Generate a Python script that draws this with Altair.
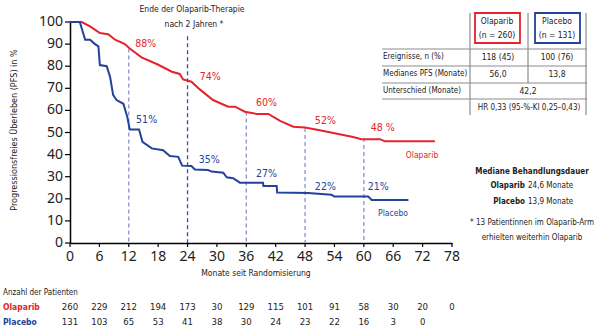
import altair as alt
import pandas as pd

# ---------------- data ----------------
ola_m = [0, 2.4, 4.1, 6.1, 7.8, 9.2, 11.2, 12.2, 14.6, 17.7, 20.8, 22.4, 23.1, 24.8, 26.5, 29.2,
         32.3, 33.7, 35.7, 38.1, 40.5, 42.9, 45.6, 48, 51, 57.8, 59.5, 63.3, 64.3, 74.5]
ola_v = [100, 100, 98, 95, 94.5, 92, 90, 88, 84, 81, 77.5, 76.5, 74, 73, 69.5, 64.7,
         61.7, 61.7, 59.4, 58.4, 58.4, 55.3, 52.6, 52.3, 51, 48, 47, 47, 46, 46]

pla_m = [0, 2.0, 3.1, 4.1, 5.1, 5.8, 6.1, 7.5, 8.2, 8.8, 9.5, 10.9, 11.7, 12.2, 14.1, 14.8,
         16.7, 19, 20.4, 22.1, 22.9, 24.8, 25.5, 28.2, 28.9, 31.3, 32, 33.3, 34.7, 39.4, 39.5,
         42.2, 42.3, 48.6, 53.4, 54, 60.9, 61.6, 69.1]
pla_v = [100, 100, 92, 92, 90, 89, 80.5, 80, 75, 67, 64.7, 63, 57, 51.4, 51.4, 45.8,
         42.8, 42, 39.4, 39, 35, 34.8, 33.3, 33, 32.3, 31.8, 29.7, 29.3, 27.3, 27.3, 25.8,
         25.8, 22.8, 22.6, 21.8, 21, 21, 19.5, 19.5]

x_ticks = list(range(0, 79, 6))
y_ticks = list(range(0, 101, 10))

rule_m = [12, 24, 36, 48, 60]
rule_top = [88, 93.5, 59.5, 52, 47.5]
rule_dark = [False, True, False, False, False]

pct_ola_text = ["88%", "74%", "60%", "52%", "48 %"]
pct_ola_m = [13.3, 26.5, 38, 50, 61.4]
pct_ola_v = [90, 75, 63.3, 55.2, 52]
pct_pla_text = ["51%", "35%", "27%", "22%", "21%"]
pct_pla_m = [13.5, 26.3, 38, 50, 60.8]
pct_pla_v = [55.7, 37.6, 31.2, 25.3, 25.3]

risk_ola = [260, 229, 212, 194, 173, 30, 129, 115, 101, 91, 58, 30, 20, 0]
risk_pla = [131, 103, 65, 53, 41, 38, 30, 24, 23, 22, 16, 3, 0]

RED = "#e4232b"
BLUE = "#23429b"
LIGHT = "#8a90d2"
DARK = "#3b4fa0"
GRAY = "#8c8c8c"
NARROW = "DejaVu Sans Condensed, Roboto, sans-serif"
TICKFONT = "Noto Sans, sans-serif"

W, H = 382, 221

xs = alt.Scale(domain=[0, 78], nice=False)
ys = alt.Scale(domain=[0, 100], nice=False)
one = pd.DataFrame({"a": [0]})

# ---------------- layers ----------------
curves = pd.DataFrame({
    "m": ola_m + pla_m,
    "v": ola_v + pla_v,
    "arm": ["Olaparib"] * len(ola_m) + ["Placebo"] * len(pla_m),
    "col": [RED] * len(ola_m) + [BLUE] * len(pla_m),
    "i": list(range(len(ola_m))) + list(range(len(pla_m))),
})

rules = pd.DataFrame({
    "m": rule_m, "v": rule_top, "v0": [0] * len(rule_m),
    "col": [DARK if d else LIGHT for d in rule_dark],
})

axis_common = dict(title=None, grid=False, labels=False, ticks=False,
                   domainColor="black", domainWidth=1.5)

rule_layer = alt.Chart(rules).mark_rule(strokeDash=[4, 3], strokeWidth=1.3).encode(
    x=alt.X("m:Q", scale=xs, axis=alt.Axis(**axis_common)),
    y=alt.Y("v:Q", scale=ys, axis=alt.Axis(**axis_common)),
    y2="v0:Q",
    color=alt.Color("col:N", scale=None),
)

line_layer = alt.Chart(curves).mark_line(strokeWidth=2).encode(
    x=alt.X("m:Q", scale=xs),
    y=alt.Y("v:Q", scale=ys),
    detail="arm:N",
    order="i:Q",
    color=alt.Color("col:N", scale=None),
)

# tick marks and tick labels drawn through the same scales
xt = pd.DataFrame({"m": x_ticks, "t": [str(v) for v in x_ticks]})
yt = pd.DataFrame({"v": y_ticks, "t": [str(v) for v in y_ticks]})
xtick_marks = alt.Chart(xt).mark_rule(color="black", strokeWidth=1.2).encode(
    x=alt.X("m:Q", scale=xs), y=alt.value(H), y2=alt.value(H + 4))
xtick_labels = alt.Chart(xt).mark_text(fontSize=14, font=TICKFONT, color="#222",
                                       baseline="middle").encode(
    x=alt.X("m:Q", scale=xs), y=alt.value(H + 14), text="t:N")
ytick_marks = alt.Chart(yt).mark_rule(color="black", strokeWidth=1.2).encode(
    y=alt.Y("v:Q", scale=ys), x=alt.value(-5), x2=alt.value(0))
ytick_labels = alt.Chart(yt).mark_text(fontSize=14, font=TICKFONT, color="#222",
                                       align="right", baseline="middle").encode(
    y=alt.Y("v:Q", scale=ys), x=alt.value(-7), text="t:N")

pcts = pd.DataFrame({
    "m": pct_ola_m + pct_pla_m,
    "v": pct_ola_v + pct_pla_v,
    "t": pct_ola_text + pct_pla_text,
    "col": [RED] * 5 + [BLUE] * 5,
})
pct_layer = alt.Chart(pcts).mark_text(align="left", baseline="middle", fontSize=10.5,
                                      font=NARROW).encode(
    x=alt.X("m:Q", scale=xs), y=alt.Y("v:Q", scale=ys),
    text="t:N", color=alt.Color("col:N", scale=None),
)

risk = pd.DataFrame({
    "m": x_ticks + x_ticks[:len(risk_pla)],
    "n": [str(v) for v in risk_ola] + [str(v) for v in risk_pla],
    "row": ["o"] * len(risk_ola) + ["p"] * len(risk_pla),
})
risk_o = alt.Chart(risk[risk.row == "o"]).mark_text(fontSize=9.5, font=NARROW, color="#222",
                                                     baseline="middle").encode(
    x=alt.X("m:Q", scale=xs), y=alt.value(285), text="n:N")
risk_p = alt.Chart(risk[risk.row == "p"]).mark_text(fontSize=9.5, font=NARROW, color="#222",
                                                     baseline="middle").encode(
    x=alt.X("m:Q", scale=xs), y=alt.value(300), text="n:N")


def txt(s, px, py, align="center", size=8.5, color="#222", weight="normal", angle=0, font=NARROW):
    kw = dict(text=s, align=align, baseline="middle", fontSize=size, color=color,
              fontWeight=weight, font=font)
    if angle:
        kw["angle"] = angle
    return alt.Chart(one).mark_text(**kw).encode(x=alt.value(px), y=alt.value(py))


def rule(x1, y1, x2, y2, color=GRAY, width=1.2):
    return alt.Chart(one).mark_rule(color=color, strokeWidth=width).encode(
        x=alt.value(x1), y=alt.value(y1), x2=alt.value(x2), y2=alt.value(y2))


def box(x1, y1, x2, y2, color):
    return alt.Chart(one).mark_rect(fill="white", fillOpacity=0, stroke=color,
                                    strokeWidth=1.8).encode(
        x=alt.value(x1), y=alt.value(y1), x2=alt.value(x2), y2=alt.value(y2))


statics = [
    txt("Progressionsfreies Überleben (PFS) in %", -56, 108, size=9, angle=270),
    txt("Monate seit Randomisierung", 186, 251, size=8.5),
    txt("Ende der Olaparib-Therapie", 122, -13, size=8.5),
    txt("nach 2 Jahren *", 124, 2, size=8.5),
    txt("Olaparib", 352, 133, size=8.5, color=RED),
    txt("Placebo", 323, 191, size=8.5, color=BLUE),
    txt("Anzahl der Patienten", -67, 271, align="left", size=8),
    txt("Olaparib", -67, 285, align="left", size=8.5, color=RED, weight="bold"),
    txt("Placebo", -67, 300, align="left", size=8.5, color=BLUE, weight="bold"),
    # table
    rule(312, 27, 517, 27), rule(312, 44, 517, 44), rule(312, 61, 517, 61), rule(312, 77, 517, 77),
    rule(400, -9, 400, 93), rule(458, -9, 458, 61), rule(516, -9, 516, 93),
    box(405, -9, 450, 21, RED), box(465, -9, 510, 21, BLUE),
    txt("Olaparib", 427, -1), txt("(n = 260)", 427, 13),
    txt("Placebo", 487, -1), txt("(n = 131)", 487, 13),
    txt("Ereignisse, n (%)", 313, 35, align="left", size=8),
    txt("Medianes PFS (Monate)", 313, 52, align="left", size=8),
    txt("Unterschied (Monate)", 313, 69, align="left", size=8),
    txt("118 (45)", 428, 35), txt("100 (76)", 487, 35),
    txt("56,0", 428, 52), txt("13,8", 487, 52),
    txt("42,2", 458, 69),
    txt("HR 0,33 (95-%-KI 0,25–0,43)", 459, 86, size=8),
    # right notes
    txt("Mediane Behandlungsdauer", 462, 150, weight="bold", size=8),
    txt("Olaparib", 455, 164, align="right", weight="bold", size=8),
    txt("24,6 Monate", 458, 164, align="left", size=8),
    txt("Placebo", 455, 180, align="right", weight="bold", size=8),
    txt("13,9 Monate", 458, 180, align="left", size=8),
    txt("* 13 Patientinnen im Olaparib-Arm", 462, 201, size=8),
    txt("erhielten weiterhin Olaparib", 462, 216, size=8),
]

chart = alt.layer(rule_layer, line_layer, xtick_marks, xtick_labels, ytick_marks, ytick_labels,
                  pct_layer, risk_o, risk_p, *statics).properties(
    width=W, height=H,
    autosize=alt.AutoSizeParams(type="none"),
    padding={"left": 70, "top": 22, "right": 148, "bottom": 87},
).configure_view(stroke=None)

chart.save("out.html", embed_options={"renderer": "svg", "actions": False})
